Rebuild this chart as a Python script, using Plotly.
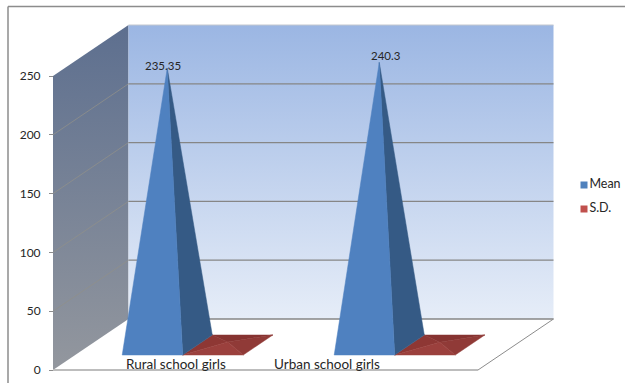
import plotly.graph_objects as go

# Chart values
categories = ["Rural school girls", "Urban school girls"]
mean_values = [235.35, 240.3]
sd_values = [2.6, 2.4]
series_names = ["Mean", "S.D."]
y_ticks = [0, 50, 100, 150, 200, 250]

# Oblique 3-D layout of the chart box
WIDTH, HEIGHT = 625, 383
UNIT = 1.176            # pixels per value unit
ZERO_PX = 370           # pixel row of value 0 on the front edge
FLOOR_X0 = 53
FLOOR_W = 425
DEPTH_X = 75.5
DEPTH_V = 51 / UNIT
GROUP_W = 212
GROUP_PAD = 47
BAR_W = 60.5
BAR_D0, BAR_D1 = 0.294, 0.686

FONT = "Lato"
TEXT = "#262626"
GRID = "#868686"


def val(px):
    """Value coordinate of a pixel row."""
    return (ZERO_PX - px) / UNIT


def proj(x, depth, value):
    """Oblique projection of (x along floor, depth 0..1, value)."""
    return x + FLOOR_X0 + DEPTH_X * depth, value + DEPTH_V * depth


def poly(points, color, gradient=None):
    xs, ys = zip(*(points + points[:1]))
    trace = dict(x=xs, y=ys, mode="lines", fill="toself",
                 line=dict(width=0.5 if color else 0, color=color),
                 hoverinfo="skip", showlegend=False)
    if gradient:
        trace["fillgradient"] = dict(type="vertical", colorscale=gradient)
    else:
        trace["fillcolor"] = color
    return go.Scatter(**trace)


def line(a, b, color, width):
    return go.Scatter(x=[a[0], b[0]], y=[a[1], b[1]], mode="lines",
                      line=dict(color=color, width=width),
                      hoverinfo="skip", showlegend=False)


def pyramid(left, height, faces):
    """Square pyramid standing on the floor; faces are back, left, right, front."""
    fl = proj(left, BAR_D0, 0)
    fr = proj(left + BAR_W, BAR_D0, 0)
    bl = proj(left, BAR_D1, 0)
    br = proj(left + BAR_W, BAR_D1, 0)
    apex = proj(left + BAR_W / 2, (BAR_D0 + BAR_D1) / 2, height)
    quads = [(bl, br), (fl, bl), (fr, br), (fl, fr)]
    out = []
    for (a, b), c in zip(quads, faces):
        if c:
            out.append(poly([a, b, apex], c))
    return out, apex


fig = go.Figure()

# Walls
fig.add_trace(poly(
    [proj(0, 0, 0), proj(0, 1, 0), proj(0, 1, 250), proj(0, 0, 250)], None,
    gradient=[[0, "#93979e"], [1, "#5d6f8f"]]))
fig.add_trace(poly(
    [proj(0, 1, 0), proj(FLOOR_W, 1, 0), proj(FLOOR_W, 1, 250), proj(0, 1, 250)], None,
    gradient=[[0, "#e6edf8"], [1, "#9bb6e3"]]))

# Gridlines on both walls
for t in y_ticks[1:-1]:
    fig.add_trace(line(proj(0, 0, t), proj(0, 1, t), "#8f8f8a", 0.8))
    fig.add_trace(line(proj(0, 1, t), proj(FLOOR_W, 1, t), GRID, 1.3))
fig.add_trace(line(proj(0, 1, 250), proj(FLOOR_W, 1, 250), "#c4c8d0", 1.2))

# Floor outline
fig.add_trace(line(proj(0, 1, 0), proj(FLOOR_W, 1, 0), GRID, 1.3))
fig.add_trace(line(proj(FLOOR_W, 0, 0), proj(FLOOR_W, 1, 0), "#8c8c8c", 1))
fig.add_trace(line(proj(0, 0, 0), proj(FLOOR_W, 0, 0), "#bdbdbd", 2))

# Pyramids for each category, red first so the blue one sits in front
label_offsets = [(-4, 2.5), (7, 6)]
for i, cat in enumerate(categories):
    start = i * GROUP_W + GROUP_PAD
    traces, _ = pyramid(start + BAR_W, sd_values[i],
                        ["#863331", "#8e3734", "#903a37", "#9b403d"])
    fig.add_traces(traces)
    traces, apex = pyramid(start, mean_values[i],
                           [None, None, "#355a85", "#4f81c0"])
    fig.add_traces(traces)
    dx, dv = label_offsets[i]
    fig.add_annotation(x=apex[0] + dx, y=apex[1] + dv, text=str(mean_values[i]),
                       showarrow=False, font=dict(family=FONT, size=11.5, color=TEXT))

# Category labels sit on the floor in front of the pyramids
for cat, cx in zip(categories, [176, 327]):
    fig.add_annotation(x=cx, y=val(364), text=cat, showarrow=False,
                       font=dict(family=FONT, size=13.5, color=TEXT))

# Legend keys
for name, color, row in zip(series_names, ["#4f81bd", "#c0504d"], [185, 209]):
    fig.add_trace(go.Scatter(x=[584], y=[val(row)], mode="markers+text",
                             marker=dict(symbol="square", size=7, color=color),
                             text=[name], textposition="middle right",
                             textfont=dict(family=FONT, size=12.5, color=TEXT),
                             hoverinfo="skip", showlegend=False))

# Outer frame of the chart area
frame = dict(color="#8c8c8c", width=1.5)
fig.add_shape(type="line", xref="paper", yref="paper", x0=8 / WIDTH, x1=8 / WIDTH,
              y0=0, y1=1 - 6.5 / HEIGHT, line=frame)
fig.add_shape(type="line", xref="paper", yref="paper", x0=8 / WIDTH, x1=1,
              y0=1 - 6.5 / HEIGHT, y1=1 - 6.5 / HEIGHT, line=frame)

fig.update_layout(
    width=WIDTH, height=HEIGHT, autosize=False,
    margin=dict(l=0, r=0, t=0, b=0),
    paper_bgcolor="white", plot_bgcolor="white",
    showlegend=False,
    xaxis=dict(range=[0, WIDTH], visible=False, fixedrange=True),
    yaxis=dict(range=[val(HEIGHT), val(0)], anchor="free", position=FLOOR_X0 / WIDTH,
               tickvals=y_ticks, ticks="outside", ticklen=4, tickcolor="#8c8c8c",
               tickfont=dict(family=FONT, size=12, color=TEXT),
               ticklabelstandoff=6,
               showgrid=False, zeroline=False, showline=False, fixedrange=True),
)

fig.write_html("out.html", config={"displayModeBar": False})
